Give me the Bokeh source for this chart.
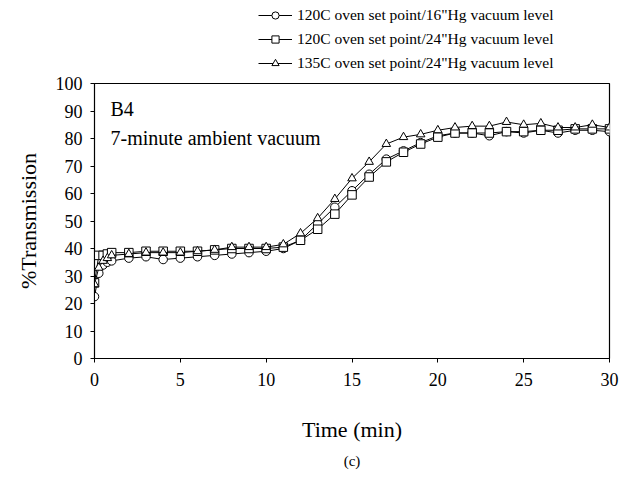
from bokeh.plotting import figure
from bokeh.layouts import column
from bokeh.models import Legend, LegendItem, Range1d, FixedTicker, Label, Title
from bokeh.embed import file_html
from bokeh.resources import INLINE

# ---- data ----
time_min = [0, 0.25, 0.5, 0.75, 1, 2, 3, 4, 5, 6, 7, 8, 9, 10, 11, 12, 13, 14, 15,
            16, 17, 18, 19, 20, 21, 22, 23, 24, 25, 26, 27, 28, 29, 30]

s120_16 = [22.5, 31, 34, 35, 35.5, 36.5, 37, 36, 36.5, 37, 37.5, 38, 38.5, 39, 40,
           43, 49, 55, 61, 67, 72.5, 75.5, 78.5, 81, 82, 82, 81, 82.5, 82, 83, 82,
           83, 83, 82.5]

s120_24 = [27.5, 37.5, 37.5, 38, 38.5, 38.5, 39, 39, 39, 39, 39.5, 40, 40, 40, 40.5,
           43, 47, 52.5, 59.5, 66, 71.5, 75, 78, 80.5, 82, 82, 82, 82.5, 82.5, 83,
           83, 83.5, 83.5, 83.5]

s135_24 = [27, 33, 35.5, 36.5, 37.5, 38, 38.5, 38.5, 38.5, 39, 39.5, 40.5, 40.5, 40.5,
           41.5, 45.5, 51, 58, 65.5, 71.5, 78, 80.5, 81.5, 83, 84, 84.5, 84.5, 86,
           85, 85.5, 84, 84, 85, 84]

series_labels = ['120C oven set point/16"Hg vacuum level',
                 '120C oven set point/24"Hg vacuum level',
                 '135C oven set point/24"Hg vacuum level']
x_ticks = [0, 5, 10, 15, 20, 25, 30]
y_ticks = [0, 10, 20, 30, 40, 50, 60, 70, 80, 90, 100]

FONT = "Liberation Serif"
markers = ["circle", "square", "triangle"]
datas = [s120_16, s120_24, s135_24]

# ---- main plot ----
p = figure(frame_width=515, frame_height=275, output_backend="svg",
           toolbar_location=None, min_border_left=94, min_border_right=12,
           min_border_top=11, min_border_bottom=0,
           x_range=Range1d(0, 30), y_range=Range1d(0, 100))
p.background_fill_color = "white"
p.border_fill_color = "white"
p.outline_line_color = "black"
p.outline_line_width = 1.2
p.xgrid.visible = False
p.ygrid.visible = False

for ax in (p.xaxis[0], p.yaxis[0]):
    ax.major_label_text_font = FONT
    ax.major_label_text_font_size = "18px"
    ax.major_label_text_color = "black"
    ax.axis_label_text_font = FONT
    ax.axis_label_text_font_size = "22px"
    ax.axis_label_text_font_style = "normal"
    ax.axis_label_text_color = "black"
    ax.axis_line_color = "black"
    ax.major_tick_line_color = "black"
    ax.minor_tick_line_color = None
    ax.major_tick_in = 0
    ax.major_tick_out = 4

p.xaxis.ticker = FixedTicker(ticks=x_ticks)
p.yaxis.ticker = FixedTicker(ticks=y_ticks)
p.xaxis.axis_label = "Time (min)"
p.yaxis.axis_label = "%Transmission"
p.xaxis.major_label_standoff = 10
p.yaxis.major_label_standoff = 8
p.xaxis.axis_label_standoff = 28
p.yaxis.axis_label_standoff = 12

for mk, ys in zip(markers, datas):
    p.line(time_min, ys, line_color="black", line_width=1)
    p.scatter(time_min, ys, marker=mk, size=8.5, line_color="black",
              fill_color="white", line_width=1)

p.add_layout(Label(x=16, y=250, x_units="screen", y_units="screen", text="B4",
                   text_font=FONT, text_font_size="20px", text_color="black",
                   text_baseline="middle"))
p.add_layout(Label(x=16, y=221, x_units="screen", y_units="screen",
                   text="7-minute ambient vacuum",
                   text_font=FONT, text_font_size="20px", text_color="black",
                   text_baseline="middle"))

p.add_layout(Title(text="(c)", align="center", text_font=FONT,
                   text_font_size="15px", text_font_style="normal",
                   text_color="black", standoff=12), "below")

# ---- legend strip on top (its frame is aligned with the main frame) ----
lg = figure(width=621, height=72, output_backend="svg", toolbar_location=None,
            min_border=0, min_border_left=94, min_border_right=12,
            x_range=Range1d(0, 30), y_range=Range1d(-200, -100))
lg.axis.visible = False
lg.grid.visible = False
lg.outline_line_color = None
lg.background_fill_color = "white"
lg.border_fill_color = "white"
items = []
for lab, mk, ys in zip(series_labels, markers, datas):
    # same series drawn out of this strip's view, used only for legend glyphs
    ln = lg.line(time_min, ys, line_color="black", line_width=1)
    sc = lg.scatter(time_min, ys, marker=mk, size=8.5, line_color="black",
                    fill_color="white", line_width=1)
    items.append(LegendItem(label=lab, renderers=[ln, sc]))
legend = Legend(items=items, location=(164, 0),
                label_text_font=FONT, label_text_font_size="15.5px",
                label_text_color="black", border_line_color=None,
                background_fill_alpha=0, glyph_width=34, glyph_height=18,
                label_height=18, spacing=6, padding=0, margin=0,
                label_standoff=5)
lg.add_layout(legend, "center")

layout = column(lg, p, spacing=0)
open("out.html", "w").write(file_html(layout, INLINE))
